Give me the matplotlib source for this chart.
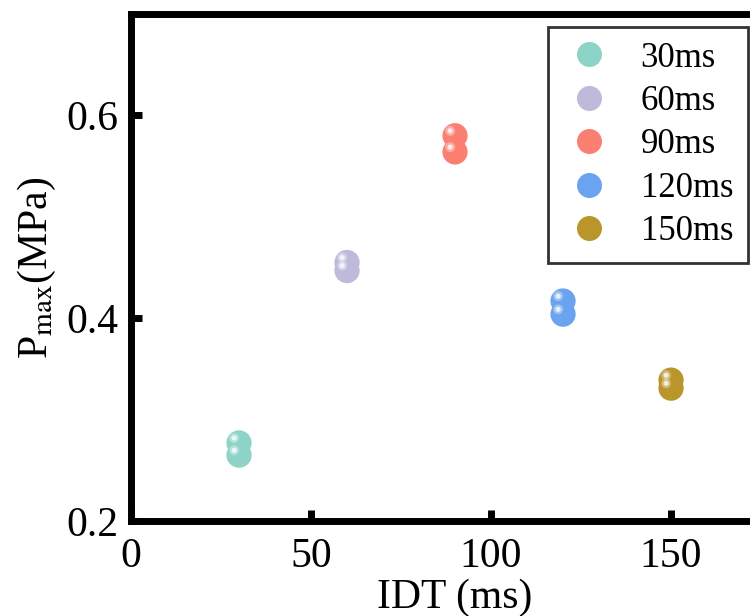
import numpy as np
import matplotlib
matplotlib.use("Agg")
import matplotlib.pyplot as plt
from matplotlib.transforms import ScaledTranslation
from matplotlib.lines import Line2D

plt.rcParams['font.family'] = ['Liberation Serif', 'DejaVu Serif']
plt.rcParams['mathtext.fontset'] = 'stix'

# data
labels = ['30ms', '60ms', '90ms', '120ms', '150ms']
idt = [30, 60, 90, 120, 150]
p_upper = [0.277, 0.455, 0.580, 0.417, 0.339]
p_lower = [0.265, 0.447, 0.564, 0.404, 0.331]
colors = ['#8dd3c7', '#bebada', '#fb8072', '#6aa3f0', '#b9952a']

fig = plt.figure(figsize=(7.5, 6.16), dpi=100)
# axes runs past the right edge like the reference crop
ax = fig.add_axes([0.1747, 0.1542, 0.8640, 0.8230])

shine = ax.transData + ScaledTranslation(-3.5 / 72, 3.5 / 72, fig.dpi_scale_trans)
handles = []
for i in range(len(labels)):
    for vals in (p_lower, p_upper):
        ax.scatter(idt[i], vals[i], s=330, color=colors[i], edgecolors='none', zorder=3)
        ax.scatter(idt[i], vals[i], s=50, color='white', alpha=0.35, edgecolors='none',
                   zorder=4, transform=shine)
        ax.scatter(idt[i], vals[i], s=14, color='white', alpha=0.75, edgecolors='none',
                   zorder=4, transform=shine)
    handles.append(Line2D([], [], marker='o', linestyle='none', markersize=18,
                          markerfacecolor=colors[i], markeredgecolor='none'))

ax.set_xlim(0, 180)
ax.set_ylim(0.2, 0.7)
ax.set_xticks([0, 50, 100, 150])
ax.set_yticks([0.2, 0.4, 0.6])
ax.set_yticklabels(['0.2', '0.4', '0.6'])

for sp in ax.spines.values():
    sp.set_linewidth(5)
ax.tick_params(direction='in', length=8, width=5, labelsize=30)
ax.tick_params(axis='x', pad=12)
ax.tick_params(axis='y', pad=9)

ax.set_xlabel('IDT (ms)', fontsize=30, labelpad=2)
ax.set_ylabel(r'P$_{\mathrm{max}}$(MPa)', fontsize=30, labelpad=6)

leg = ax.legend(handles, labels, loc='upper left', bbox_to_anchor=(548 / 750, 1 - 27 / 616),
                bbox_transform=fig.transFigure,
                fontsize=25, frameon=True, fancybox=False, edgecolor='black',
                handletextpad=0.75, labelspacing=0.3, borderpad=0.42,
                handlelength=1.5, borderaxespad=0)
leg.get_frame().set_linewidth(2)

fig.savefig('out.png', dpi=100)
